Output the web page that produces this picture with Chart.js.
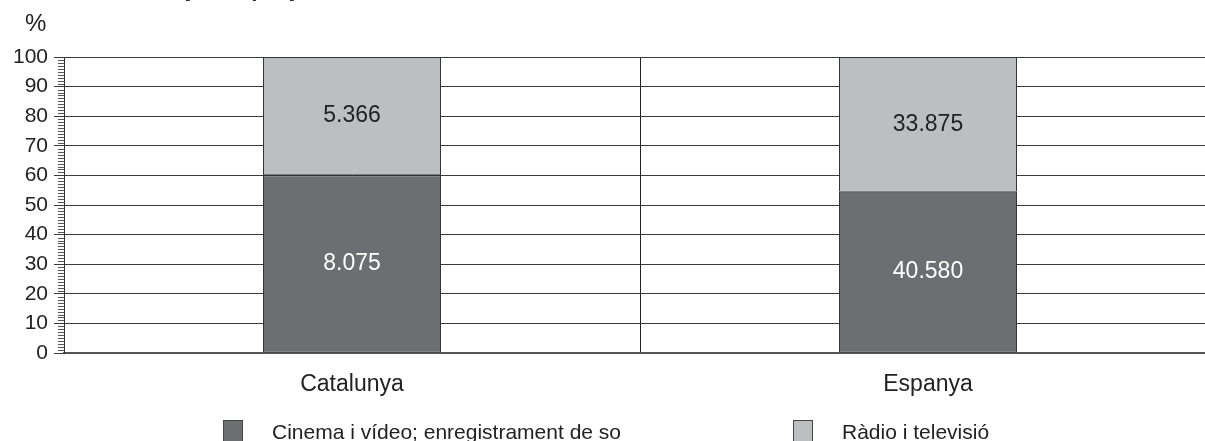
<!DOCTYPE html>
<html>
<head>
<meta charset="utf-8">
<script src="https://cdn.jsdelivr.net/npm/chart.js@4.4.1/dist/chart.umd.min.js"></script>
<style>
  html, body { margin: 0; padding: 0; background: #fff; overflow: hidden; width: 1205px; height: 441px; }
  #wrap { position: relative; width: 1216px; height: 441px; }
  #title { position: absolute; left: 108px; top: -22px; font: bold 21px "Liberation Sans", Arial, sans-serif; color: #222; white-space: nowrap; line-height: 24px; }
  #unit { position: absolute; left: 25px; top: 9px; font: 24px "Liberation Sans", Arial, sans-serif; color: #222; }
  #legend { position: absolute; top: 420px; left: 0; width: 1216px; height: 30px; font: 21px "Liberation Sans", Arial, sans-serif; color: #222; }
  .li { position: absolute; top: 0; white-space: nowrap; }
  .sw { position: absolute; top: 0; width: 20px; height: 22px; border: 1px solid #444; box-sizing: border-box; }
  .tx { position: absolute; top: 0; line-height: 24px; }
</style>
</head>
<body>
<div id="wrap">
  <canvas id="c" width="1216" height="441"></canvas>
  <div id="title">Catalunya i Espanya</div>
  <div id="unit">%</div>
  <div id="legend"></div>
</div>
<script>
const categories = ['Catalunya', 'Espanya'];
const seriesNames = ['Cinema i vídeo; enregistrament de so', 'Ràdio i televisió'];
const cinemaValues = [8075, 40580];
const radioValues = [5366, 33875];
const yTicks = [0, 10, 20, 30, 40, 50, 60, 70, 80, 90, 100];
const colors = ['#6d6e71', '#bdbec1'];
const labelColors = ['#ffffff', '#222222'];

const totals = categories.map((_, i) => cinemaValues[i] + radioValues[i]);
const raw = [cinemaValues, radioValues];
const pct = raw.map(arr => arr.map((v, i) => v / totals[i] * 100));

function fmt(n) {
  return String(n).replace(/\B(?=(\d{3})+(?!\d))/g, '.');
}

const FONT = '"Liberation Sans", Arial, sans-serif';

const segLabels = {
  id: 'segLabels',
  afterDatasetsDraw(chart) {
    const ctx = chart.ctx;
    ctx.save();
    ctx.font = '23px ' + FONT;
    ctx.textAlign = 'center';
    ctx.textBaseline = 'middle';
    chart.data.datasets.forEach((ds, di) => {
      const meta = chart.getDatasetMeta(di);
      meta.data.forEach((bar, i) => {
        const p = bar.getProps(['x', 'y', 'base'], true);
        ctx.fillStyle = labelColors[di];
        ctx.fillText(fmt(raw[di][i]), p.x, (p.y + p.base) / 2);
      });
    });
    ctx.restore();
  }
};

const minorTicks = {
  id: 'minorTicks',
  afterDraw(chart) {
    const y = chart.scales.y;
    const ctx = chart.ctx;
    const x0 = chart.chartArea.left;
    ctx.save();
    ctx.strokeStyle = '#555';
    ctx.lineWidth = 1;
    for (let v = y.min; v <= y.max; v += 1) {
      if (v % 10 === 0) continue;
      const py = Math.round(y.getPixelForValue(v)) + 0.5;
      ctx.beginPath();
      ctx.moveTo(x0 - 6, py);
      ctx.lineTo(x0, py);
      ctx.stroke();
    }
    ctx.restore();
  }
};

const chart = new Chart(document.getElementById('c'), {
  type: 'bar',
  data: {
    labels: categories,
    datasets: seriesNames.map((name, di) => ({
      label: name,
      data: pct[di],
      backgroundColor: colors[di],
      borderColor: '#333',
      borderWidth: 1,
      borderSkipped: false,
      barPercentage: 1,
      categoryPercentage: 0.309
    }))
  },
  options: {
    responsive: false,
    animation: false,
    events: [],
    layout: { padding: { top: 57, right: 0, left: 0, bottom: 0 } },
    plugins: { legend: { display: false }, tooltip: { enabled: false }, title: { display: false } },
    scales: {
      x: {
        stacked: true,
        afterFit(s) { s.height = 88; },
        grid: { offset: true, color: '#222', lineWidth: 1, drawTicks: false },
        border: { color: '#555', width: 2 },
        ticks: { color: '#222', font: { family: FONT, size: 23 }, padding: 18 }
      },
      y: {
        stacked: true,
        min: 0,
        max: 100,
        afterFit(s) { s.width = 64; },
        afterBuildTicks(s) { s.ticks = yTicks.map(v => ({ value: v })); },
        grid: { color: '#3a3a3a', lineWidth: 1, tickLength: 10, drawTicks: true },
        border: { color: '#333', width: 1 },
        ticks: { color: '#222', font: { family: FONT, size: 21 }, padding: 6, callback: v => String(v) }
      }
    }
  },
  plugins: [segLabels, minorTicks]
});

// HTML legend built from dataset definitions
const legend = document.getElementById('legend');
const legendX = [223, 793];
chart.data.datasets.forEach((ds, i) => {
  const item = document.createElement('div');
  item.className = 'li';
  item.style.left = legendX[i] + 'px';
  const sw = document.createElement('div');
  sw.className = 'sw';
  sw.style.left = '0px';
  sw.style.background = ds.backgroundColor;
  const tx = document.createElement('div');
  tx.className = 'tx';
  tx.style.left = '49px';
  tx.textContent = ds.label;
  item.appendChild(sw);
  item.appendChild(tx);
  legend.appendChild(item);
});
</script>
</body>
</html>
